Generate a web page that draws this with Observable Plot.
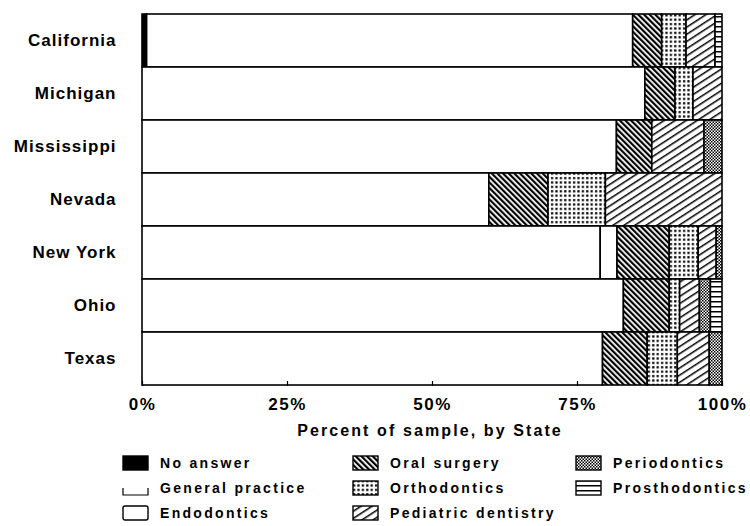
<!DOCTYPE html>
<html>
<head>
<meta charset="utf-8">
<script src="https://cdn.jsdelivr.net/npm/d3@7"></script>
<script src="https://cdn.jsdelivr.net/npm/@observablehq/plot@0.6"></script>
<style>
  html, body { margin: 0; padding: 0; background: #fff; }
  body { width: 750px; height: 526px; position: relative; overflow: hidden; font-family: "Liberation Sans", Arial, sans-serif; font-weight: bold; color: #000; }
  #chart svg { display: block; }
  #chart [aria-label="y-axis tick label"] text { font-size: 17px; letter-spacing: 1px; font-weight: bold; }
  #chart [aria-label="x-axis tick label"] text { font-size: 17px; letter-spacing: 1.5px; font-weight: bold; }
  #xlabel { position: absolute; left: 0; width: 750px; top: 422px; text-align: center; font-size: 16px; letter-spacing: 2.1px; padding-left: 110px; box-sizing: border-box; }
  .leg { position: absolute; display: flex; align-items: center; font-size: 14px; letter-spacing: 2.3px; white-space: nowrap; }
  .leg svg { margin-right: 10px; }
</style>
</head>
<body>
<svg width="0" height="0" style="position:absolute">
  <defs>
    <pattern id="p-oral" width="4" height="4" patternUnits="userSpaceOnUse" patternTransform="rotate(-45)">
      <rect width="4" height="4" fill="#fff"/>
      <rect width="2.2" height="4" fill="#000"/>
    </pattern>
    <pattern id="p-ortho" width="4.4" height="4.4" patternUnits="userSpaceOnUse">
      <rect width="4.4" height="4.4" fill="#fff"/>
      <rect x="1" y="1" width="2.2" height="2.2" fill="#000"/>
    </pattern>
    <pattern id="p-pedi" width="6" height="6" patternUnits="userSpaceOnUse" patternTransform="rotate(-33)">
      <rect width="6" height="6" fill="#fff"/>
      <rect width="6" height="1.5" fill="#000"/>
    </pattern>
    <pattern id="p-perio" width="3" height="3" patternUnits="userSpaceOnUse">
      <rect width="3" height="3" fill="#fff"/>
      <rect width="1.5" height="1.5" fill="#000"/>
      <rect x="1.5" y="1.5" width="1.5" height="1.5" fill="#000"/>
    </pattern>
    <pattern id="p-prost" width="5" height="5" patternUnits="userSpaceOnUse">
      <rect width="5" height="5" fill="#fff"/>
      <rect y="1" width="5" height="1.5" fill="#000"/>
    </pattern>
  </defs>
</svg>
<div id="chart"></div>
<div id="xlabel"></div>
<div id="legend"></div>
<script>
const states = ["California", "Michigan", "Mississippi", "Nevada", "New York", "Ohio", "Texas"];
const categories = ["No answer", "General practice", "Endodontics", "Oral surgery", "Orthodontics", "Pediatric dentistry", "Periodontics", "Prosthodontics"];
const noAnswer        = [0.8, 0,    0,    0,    0,    0,    0];
const generalPractice = [83.8, 86.7, 81.8, 59.8, 79.0, 83.0, 79.4];
const endodontics     = [0,    0,    0,    0,    2.9,  0,    0];
const oralSurgery     = [5.0,  5.2,  6.1,  10.2, 9.0,  7.9,  7.7];
const orthodontics    = [4.2,  3.1,  0,    9.9,  5.0,  1.8,  5.2];
const pediatric       = [5.0,  5.0,  9.0,  20.1, 3.1,  3.4,  5.5];
const periodontics    = [0,    0,    3.1,  0,    1.0,  1.9,  2.2];
const prosthodontics  = [1.2,  0,    0,    0,    0,    2.0,  0];
const xTicks = [0, 25, 50, 75, 100];
const xLabel = "Percent of sample, by State";

const series = [noAnswer, generalPractice, endodontics, oralSurgery, orthodontics, pediatric, periodontics, prosthodontics];
const fills = ["#000", "#fff", "#fff", "url(#p-oral)", "url(#p-ortho)", "url(#p-pedi)", "url(#p-perio)", "url(#p-prost)"];

const rows = [];
states.forEach((s, i) => {
  categories.forEach((c, j) => {
    const v = series[j][i];
    if (v > 0) rows.push({state: s, category: c, value: v});
  });
});

const plot = Plot.plot({
  width: 750,
  height: 420,
  marginLeft: 142,
  marginRight: 28,
  marginTop: 12,
  marginBottom: 34,
  style: {fontFamily: "'Liberation Sans', Arial, sans-serif", fontWeight: "bold", color: "#000", background: "#fff", overflow: "visible"},
  x: {domain: [0, 100]},
  y: {domain: states, padding: 0},
  color: {domain: categories, range: fills},
  marks: [
    Plot.barX(rows, Plot.stackX({
      y: "state", x: "value", fill: "category",
      order: categories,
      stroke: "#000", strokeWidth: 1.6
    })),
    Plot.axisX({ticks: xTicks, tickSize: -5, tickPadding: 16, tickFormat: d => d + "%", label: null, strokeWidth: 1.2}),
    Plot.axisY({tickSize: 0, tickPadding: 26, label: null})
  ]
});
document.getElementById("chart").appendChild(plot);
document.getElementById("xlabel").textContent = xLabel;

// Legend
const legendPos = [
  [122, 463], [122, 488], [122, 513],
  [352, 463], [352, 488], [352, 513],
  [575, 463], [575, 488]
];
const legend = document.getElementById("legend");
categories.forEach((c, j) => {
  const [x, y] = legendPos[j];
  const div = document.createElement("div");
  div.className = "leg";
  div.style.left = x + "px";
  div.style.top = (y - 9) + "px";
  const ns = "http://www.w3.org/2000/svg";
  const sw = document.createElementNS(ns, "svg");
  sw.setAttribute("width", 28);
  sw.setAttribute("height", 18);
  if (c === "General practice") {
    const r = document.createElementNS(ns, "rect");
    r.setAttribute("x", 1); r.setAttribute("y", 2); r.setAttribute("width", 25); r.setAttribute("height", 14);
    r.setAttribute("fill", "#fff");
    sw.appendChild(r);
    const p = document.createElementNS(ns, "path");
    p.setAttribute("d", "M1,9V16H26V9");
    p.setAttribute("fill", "none"); p.setAttribute("stroke", "#000"); p.setAttribute("stroke-width", 1.2);
    sw.appendChild(p);
  } else {
    const r = document.createElementNS(ns, "rect");
    r.setAttribute("x", 1); r.setAttribute("y", 2); r.setAttribute("width", 25); r.setAttribute("height", 14);
    r.setAttribute("fill", fills[j]);
    r.setAttribute("stroke", "#000"); r.setAttribute("stroke-width", 1.4);
    if (c === "Endodontics") { r.setAttribute("rx", 2); }
    sw.appendChild(r);
  }
  div.appendChild(sw);
  const t = document.createElement("span");
  t.textContent = c;
  div.appendChild(t);
  legend.appendChild(div);
});
</script>
</body>
</html>
